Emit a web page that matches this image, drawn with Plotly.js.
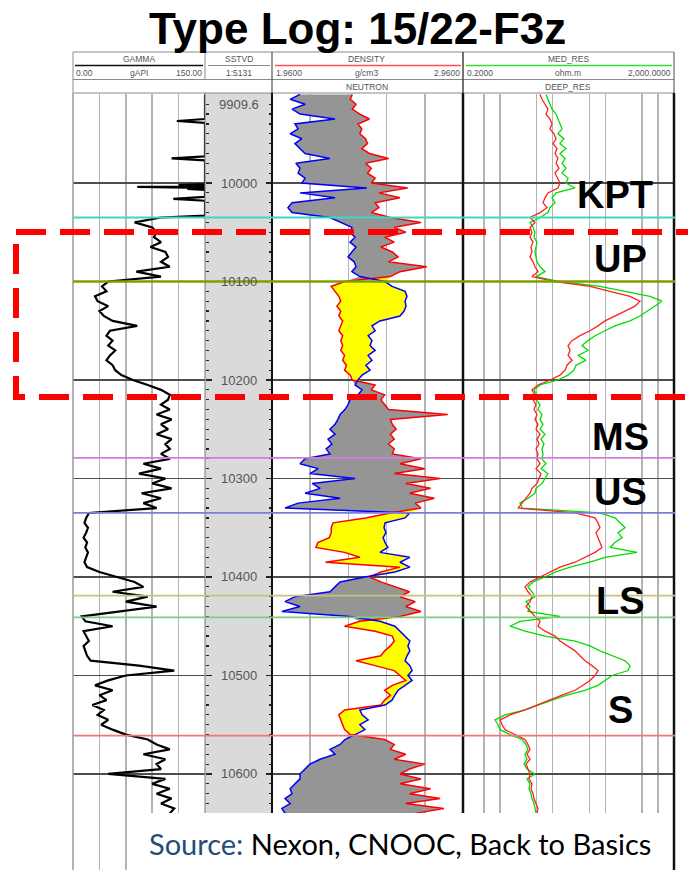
<!DOCTYPE html>
<html><head><meta charset="utf-8">
<script src="https://cdn.plot.ly/plotly-3.0.1.min.js"></script>
<style>html,body{margin:0;padding:0;background:#fff}#chart{width:688px;height:870px}</style>
</head><body><div id="chart"></div><script>
// ---------------- DATA ----------------
const depth = [
9910,9915,9920,9925,9930,9935,9940,9945,9950,9955,
9960,9965,9970,9975,9980,9985,9990,9995,10000,10005,
10010,10015,10020,10025,10030,10035,10040,10045,10050,10055,
10060,10065,10070,10075,10080,10085,10090,10095,10100,10105,
10110,10115,10120,10125,10130,10135,10140,10145,10150,10155,
10160,10165,10170,10175,10180,10185,10190,10195,10200,10205,
10210,10215,10220,10225,10230,10235,10240,10245,10250,10255,
10260,10265,10270,10275,10280,10285,10290,10295,10300,10305,
10310,10315,10320,10325,10330,10335,10340,10345,10350,10355,
10360,10365,10370,10375,10380,10385,10390,10395,10400,10405,
10410,10415,10420,10425,10430,10435,10440,10445,10450,10455,
10460,10465,10470,10475,10480,10485,10490,10495,10500,10505,
10510,10515,10520,10525,10530,10535,10540,10545,10550,10555,
10560,10565,10570,10575,10580,10585,10590,10595,10600,10605,
10610,10615,10620,10625,10630,10635,10640];

// gamma ray: upper section read with its thin spikes, then the common 5-ft grid from 10035
const gammaTopDepth = [9910,9935,9937,9939,9973,9975,9977,10000,10001,10002,10003,10004,10005,10006,10007,10014,10016,10018,10033];
const gammaTop      = [150,150,118,150,150,112,150,150,150,120,150,73,150,130,150,150,114,150,150];
const gammaLow = [
100,70,90,95,92,
100,88,105,108,100,110,72,100,40,33,
38,25,28,40,30,35,45,73,42,38,
45,40,48,42,38,45,48,55,68,85,
100,110,108,100,110,95,112,100,108,95,
112,105,110,100,110,80,100,75,105,90,
112,78,100,80,95,18,15,13,17,15,
12,16,14,17,15,13,16,30,50,70,
80,45,85,60,95,55,10,14,45,12,
15,18,12,14,16,20,75,115,60,40,
25,45,30,38,22,35,28,40,32,45,
60,85,95,110,80,105,95,100,40,105,
90,110,95,112,100,115,110];

const rhob = [
2.38,2.37,2.40,2.38,2.42,2.47,2.41,2.43,2.42,2.45,
2.46,2.43,2.47,2.57,2.45,2.48,2.46,2.50,2.48,2.67,
2.52,2.63,2.50,2.52,2.48,2.58,2.74,2.60,2.66,2.55,
2.60,2.53,2.59,2.62,2.57,2.77,2.63,2.58,2.34,2.27,
2.29,2.31,2.32,2.30,2.32,2.31,2.33,2.32,2.31,2.33,
2.32,2.33,2.32,2.34,2.33,2.35,2.34,2.37,2.38,2.50,
2.48,2.55,2.53,2.55,2.57,2.88,2.58,2.59,2.61,2.58,
2.60,2.57,2.60,2.59,2.74,2.63,2.76,2.60,2.84,2.66,
2.79,2.68,2.81,2.71,2.74,2.58,2.45,2.28,2.27,2.27,
2.26,2.20,2.19,2.34,2.42,2.24,2.63,2.53,2.47,2.53,
2.60,2.68,2.63,2.71,2.66,2.74,2.63,2.42,2.34,2.50,
2.59,2.60,2.58,2.55,2.53,2.40,2.50,2.60,2.63,2.66,
2.59,2.55,2.58,2.55,2.53,2.34,2.31,2.32,2.33,2.34,
2.37,2.55,2.60,2.58,2.66,2.60,2.76,2.68,2.63,2.74,
2.63,2.79,2.68,2.84,2.66,2.86,2.71];

const nphi = [
0.362,0.393,0.346,0.387,0.362,0.252,0.378,0.368,0.393,0.356,
0.378,0.362,0.346,0.268,0.375,0.362,0.368,0.346,0.356,0.152,
0.362,0.252,0.387,0.400,0.387,0.268,0.236,0.199,0.205,0.189,
0.205,0.186,0.199,0.211,0.192,0.186,0.199,0.174,0.095,0.073,
0.032,0.026,0.032,0.029,0.035,0.048,0.111,0.136,0.126,0.148,
0.136,0.142,0.126,0.148,0.136,0.155,0.142,0.167,0.180,0.189,
0.167,0.180,0.205,0.211,0.221,0.236,0.243,0.252,0.268,0.252,
0.274,0.262,0.280,0.268,0.346,0.362,0.305,0.331,0.189,0.324,
0.299,0.346,0.236,0.368,0.409,0.017,0.032,0.095,0.098,0.092,
0.101,0.095,0.086,0.111,0.017,0.048,0.017,0.064,0.158,0.236,
0.252,0.268,0.378,0.409,0.362,0.419,0.205,0.111,0.064,0.048,
0.032,0.017,0.023,0.017,0.026,0.032,0.017,0.010,0.023,0.010,
0.032,0.054,0.064,0.073,0.095,0.174,0.167,0.148,0.174,0.158,
0.189,0.221,0.236,0.268,0.252,0.299,0.331,0.346,0.362,0.362,
0.378,0.393,0.387,0.409,0.393,0.419,0.409];

const deepRes = [
5.77,6.29,7.17,8.17,7.49,8.92,9.74,8.92,10.6,11.6,
10.2,12.1,11.1,12.6,11.6,13.2,11.1,12.6,13.8,12.6,
8.17,7.17,6.57,7.82,5.77,3.73,4.63,3.73,4.06,3.73,
4.25,3.89,4.06,3.73,4.25,4.63,5.28,4.06,11.1,51.1,
122,293,453,365,236,152,98.4,72.5,51.1,33.0,
23.3,19.6,21.4,19.6,23.3,18.7,17.2,13.8,8.92,5.28,
4.06,4.63,4.25,4.84,4.44,5.06,4.63,5.28,4.84,5.77,
5.06,5.52,4.84,5.28,5.06,5.77,4.84,6.02,5.52,5.06,
4.06,3.73,3.13,2.63,2.21,26.6,63.6,72.5,79.1,66.4,
72.5,79.1,86.3,63.6,41.1,26.6,13.8,8.92,5.77,3.73,
3.00,3.41,4.06,3.73,3.13,3.73,4.63,5.77,5.28,7.17,
11.1,13.8,19.6,26.6,33.0,41.1,55.8,72.5,63.6,51.1,
37.7,26.6,15.1,8.92,5.06,3.00,1.56,1.01,1.10,1.25,
1.94,3.00,3.41,3.73,3.27,3.73,3.13,3.41,3.73,3.57,
4.06,3.89,4.25,4.44,4.84,5.28,5.06];

const medRes = [
7.49,8.17,8.92,9.74,11.6,12.6,13.8,15.1,12.6,16.4,
13.8,17.9,13.8,17.2,15.1,17.9,15.1,19.6,17.9,26.6,
11.6,9.74,11.1,8.92,8.17,5.77,3.73,4.25,4.63,4.44,
5.06,4.84,4.63,4.84,5.06,5.77,7.17,4.84,13.8,79.1,
236,702,1185,873,643,453,293,152,98.4,63.6,
46.9,36.1,46.9,30.3,42.9,27.8,25.4,19.6,12.6,5.77,
4.44,5.06,4.84,5.77,5.28,6.29,5.77,6.57,5.77,7.17,
6.02,6.86,6.29,6.57,6.29,7.49,6.02,8.17,7.17,6.29,
4.84,4.63,3.41,2.41,2.63,79.1,152,189,236,174,
207,152,122,398,98.4,51.1,21.4,11.1,7.17,4.25,
3.41,4.06,4.63,3.13,3.73,3.41,13.8,2.41,1.56,3.00,
7.17,26.6,51.1,79.1,134,236,293,269,134,98.4,
72.5,41.1,18.7,9.74,5.28,3.00,1.25,0.81,0.92,1.01,
1.56,2.63,3.13,3.41,3.00,3.27,2.87,3.27,4.63,3.27,
3.73,3.57,3.89,4.06,4.44,4.63,4.84];

const topNames  = ['KPT','UP','MS','US','','LS','S'];
const topDepths = [10035,10100,10279,10335,10419,10441,10561];
const depthLabels = ['9909.6','10000','10100','10200','10300','10400','10500','10600'];

// ---------------- STYLE / LAYOUT ----------------
const topColors = ['#3fd8c2','#7f9f00','#cc80d8','#7b7be0','#c8c27a','#82cc82','#e87a7a'];
const labelShift = [0, 0, -2, -2, 0, -7, 3];
const W = 688, H = 870;
const px = v => v / W, py = v => 1 - v / H;
const FONT = 'Liberation Sans, Arial, sans-serif';
const yTop = 9909.6, yBot = 10697.5;

const gammaDepth = gammaTopDepth.concat(depth.slice(depth.indexOf(10035)));
const gamma = gammaTop.concat(gammaLow);

// neutron expressed on the density track scale (1.96..2.96 <-> 0.45..-0.15) for shading
const nEq = nphi.map(n => 1.96 + (0.45 - n) / 0.6);
const greyEdge = rhob.map((r, i) => Math.min(r, nEq[i]));
const yellowEdge = rhob.map((r, i) => Math.max(r, nEq[i]));
const revDepth = depth.slice().reverse();

const traces = [
  {x: rhob.concat(greyEdge.slice().reverse()), y: depth.concat(revDepth), xaxis:'x3', yaxis:'y',
   mode:'none', fill:'toself', fillcolor:'#959595', hoverinfo:'skip', showlegend:false},
  {x: rhob.concat(yellowEdge.slice().reverse()), y: depth.concat(revDepth), xaxis:'x3', yaxis:'y',
   mode:'none', fill:'toself', fillcolor:'#ffff00', hoverinfo:'skip', showlegend:false},
  {x: gamma, y: gammaDepth, xaxis:'x', yaxis:'y', mode:'lines', line:{color:'#000', width:2.2}, hoverinfo:'skip', showlegend:false},
  {x: nphi, y: depth, xaxis:'x4', yaxis:'y', mode:'lines', line:{color:'#0000ff', width:1.5}, hoverinfo:'skip', showlegend:false},
  {x: rhob, y: depth, xaxis:'x3', yaxis:'y', mode:'lines', line:{color:'#ff0000', width:1.5}, hoverinfo:'skip', showlegend:false},
  {x: medRes, y: depth, xaxis:'x5', yaxis:'y', mode:'lines', line:{color:'#00dd00', width:1.3}, hoverinfo:'skip', showlegend:false},
  {x: deepRes, y: depth, xaxis:'x5', yaxis:'y', mode:'lines', line:{color:'#ff2020', width:1.3}, hoverinfo:'skip', showlegend:false},
  {x: [null], y: [null], xaxis:'x', yaxis:'y2', mode:'lines', hoverinfo:'skip', showlegend:false}
];

const shapes = [];
const line = (x0, y0, x1, y1, color, width, layer) =>
  shapes.push({type:'line', xref:'paper', yref:'paper', x0:px(x0), y0:py(y0), x1:px(x1), y1:py(y1),
               line:{color, width}, layer: layer || 'above'});

// depth track grey
shapes.push({type:'rect', xref:'paper', yref:'paper', x0:px(205), x1:px(272), y0:py(93), y1:0,
  fillcolor:'#dadada', line:{width:0}, layer:'below'});

// header box
line(73, 52, 674, 52, '#8a8a8a', 1);
line(73, 79.5, 674, 79.5, '#8a8a8a', 1);
line(73, 93, 674, 93, '#8a8a8a', 1.2);
line(73, 52, 73, 93, '#8a8a8a', 1);
line(205, 52, 205, 80, '#8a8a8a', 1);
line(272, 52, 272, 93, '#555', 1.2);
line(463, 52, 463, 93, '#444', 1.5);
line(674, 52, 674, 93, '#666', 1.2);
line(75, 65.5, 203, 65.5, '#111', 1.5);
line(208, 65.5, 270, 65.5, '#888', 1);
line(275, 65.5, 461, 65.5, '#ff5050', 1.5);
line(466, 65.5, 672, 65.5, '#33dd33', 1.5);

// track borders
line(73, 93, 73, 870, '#9a9a9a', 1.5);
line(205, 93, 205, 870, '#777', 1);
line(272, 93, 272, 870, '#111', 2);
line(463, 93, 463, 870, '#111', 2.5);
line(674, 93, 674, 870, '#111', 2.5);

// formation tops
topDepths.forEach((d, i) => shapes.push({type:'line', xref:'paper', yref:'y', x0:px(73), x1:px(675), y0:d, y1:d,
  line:{color: topColors[i], width: i === 1 ? 2.5 : 1.8}, layer:'above'}));

// red dashed highlight box
shapes.push({type:'rect', xref:'paper', yref:'paper', x0:px(16), x1:px(730), y0:py(232), y1:py(397),
  line:{color:'#ff0000', width:6, dash:'30px,14px'}, fillcolor:'rgba(0,0,0,0)', layer:'above'});

// source box
shapes.push({type:'rect', xref:'paper', yref:'paper', x0:px(130), x1:px(672), y0:py(813), y1:py(872),
  fillcolor:'#ffffff', line:{width:0}, layer:'above'});

const annotations = [];
const txt = (text, x, y, size, opts) => annotations.push(Object.assign({text, x:px(x), y:py(y), xref:'paper', yref:'paper',
  showarrow:false, font:{family:FONT, size, color:'#555'}, xanchor:'center', yanchor:'middle'}, opts || {}));

txt('<b>Type Log: 15/22-F3z</b>', 357, 28, 44, {font:{family:FONT, size:44, color:'#000'}});
// header texts
txt('GAMMA', 139, 59, 8.5);
txt('0.00', 74, 73, 8.5, {xanchor:'left'});
txt('gAPI', 139, 73, 8.5);
txt('150.00', 204, 73, 8.5, {xanchor:'right'});
txt('SSTVD', 239, 59, 8.5);
txt('1:5131', 239, 73, 8.5);
txt('DENSITY', 367, 59, 8.5);
txt('1.9600', 274, 73, 8.5, {xanchor:'left'});
txt('g/cm3', 367, 73, 8.5);
txt('2.9600', 462, 73, 8.5, {xanchor:'right'});
txt('NEUTRON', 367, 86.5, 8.5);
txt('MED_RES', 568, 59, 8.5);
txt('0.2000', 465, 73, 8.5, {xanchor:'left'});
txt('ohm.m', 568, 73, 8.5);
txt('2,000.0000', 673, 73, 8.5, {xanchor:'right'});
txt('DEEP_RES', 568, 86.5, 8.5);

// depth labels
depthLabels.forEach((t, i) => annotations.push({text:t, x:px(239), xref:'paper', y:Number(t), yref:'y',
  showarrow:false, xanchor:'center', yanchor: i === 0 ? 'top' : 'middle', yshift: i === 0 ? -1 : 0,
  font:{family:FONT, size:13, color:'#555'}}));

// formation names
topNames.forEach((n, i) => { if (!n) return;
  annotations.push({text:'<b>' + n + '</b>', x:px(i === 0 ? 615 : 620), xref:'paper', y:topDepths[i], yref:'y',
    showarrow:false, xanchor:'center', yanchor:'bottom', yshift:labelShift[i],
    font:{family:FONT, size:38, color:'#000'}}); });

// source
annotations.push({text:'<span style="color:#1f4e79">Source:</span> Nexon, CNOOC, Back to Basics',
  x:px(400), y:py(843), xref:'paper', yref:'paper', showarrow:false, xanchor:'center', yanchor:'middle',
  font:{family:'Lato, Open Sans, sans-serif', size:29, color:'#000'}});

const hidden = {showticklabels:false, ticks:'', zeroline:false, showline:false};
const tickStyle = {tick0:0, dtick:100, ticks:'inside', ticklen:6, tickwidth:1.2, tickcolor:'#222',
  showticklabels:false, zeroline:false, showline:false,
  minor:{tick0:0, dtick:10, ticks:'inside', ticklen:3, tickwidth:1.2, tickcolor:'#222', showgrid:false}};
const layout = {
  width: W, height: H, margin:{l:0, r:0, t:0, b:0, pad:0},
  paper_bgcolor:'#ffffff', plot_bgcolor:'rgba(0,0,0,0)', showlegend:false,
  xaxis: Object.assign({domain:[px(73), px(205)], range:[0,150], anchor:'y', tickvals:[30,60,90,120],
    showgrid:true, gridcolor:'#b4b4b4', gridwidth:1.5}, hidden),
  xaxis3: Object.assign({domain:[px(272), px(463)], range:[1.96,2.96], anchor:'y', tickvals:[2.16,2.36,2.56,2.76],
    showgrid:true, gridcolor:'#b4b4b4', gridwidth:1.5}, hidden),
  xaxis4: Object.assign({overlaying:'x3', range:[0.45,-0.15], anchor:'y', showgrid:false}, hidden),
  xaxis5: Object.assign({domain:[px(463), px(674)], type:'log', range:[Math.log10(0.2), Math.log10(2000)], anchor:'y',
    tickvals:[0.5,1,5,10,50,100,500,1000], showgrid:true, gridcolor:'#b4b4b4', gridwidth:1.5}, hidden),
  yaxis: Object.assign({domain:[0, py(94)], range:[yBot, yTop], anchor:'free', position:px(205), side:'left',
    showgrid:true, gridcolor:'#4d4d4d', gridwidth:1.5}, tickStyle),
  yaxis2: Object.assign({overlaying:'y', range:[yBot, yTop], anchor:'free', position:px(272), side:'right',
    showgrid:false}, tickStyle),
  shapes, annotations
};

Plotly.newPlot('chart', traces, layout, {staticPlot:true, displayModeBar:false});
</script></body></html>
